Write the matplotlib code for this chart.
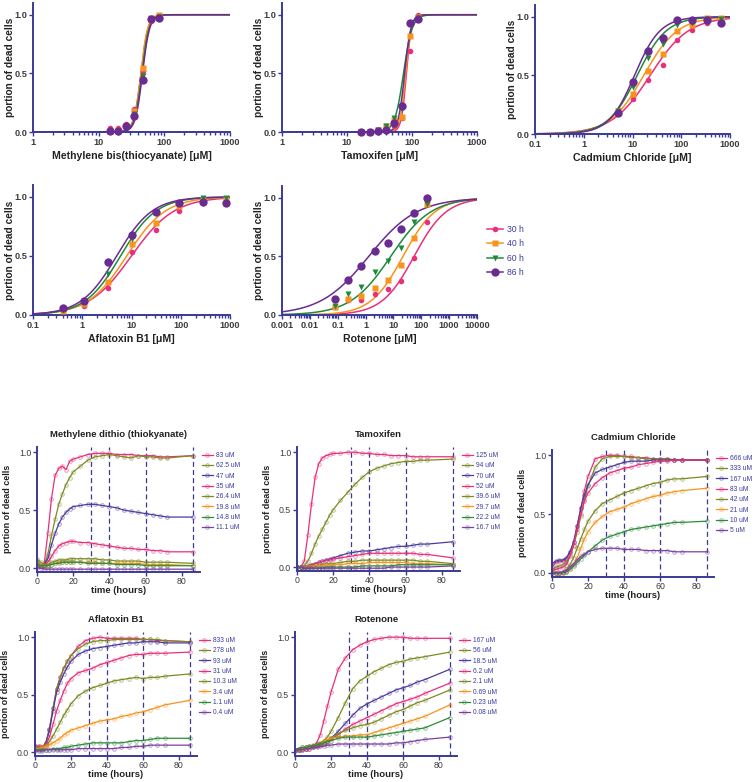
"""
Dose-response (top) and time-course (bottom) of cell death for five compounds.
Output: out.png (756x782 px)
"""

import numpy as np
import matplotlib
matplotlib.use("Agg")
import matplotlib.pyplot as plt
from matplotlib.colors import to_rgba
from matplotlib.lines import Line2D
from matplotlib.ticker import LogLocator, NullFormatter, FuncFormatter

plt.rcParams["font.family"] = ["Liberation Sans", "DejaVu Sans"]

W, H = 756, 782
AXIS = "#3a3a96"
TXT = "#3c3c3c"
LEG_TXT = "#3a3aa0"

# ---------------- dose-response data ----------------
TIMES = ["30 h", "40 h", "60 h", "86 h"]
T_COLORS = ["#e8307a", "#f7941d", "#1f8a3c", "#6a2c91"]
T_MARKERS = ["o", "s", "v", "o"]
T_MSIZE = [4, 4, 4.5, 6]

# Methylene bis(thiocyanate)
MBT_CONC = [14.8, 19.8, 26.4, 35, 47, 62.5, 83]
MBT_Y = [
    [0.03, 0.03, 0.07, 0.20, 0.52, 0.95, 0.98],
    [0.01, 0.02, 0.05, 0.18, 0.55, 0.97, 1.00],
    [0.01, 0.01, 0.04, 0.15, 0.48, 0.96, 0.98],
    [0.01, 0.01, 0.05, 0.14, 0.44, 0.96, 0.97],
]
MBT_EC50 = [44, 44, 45.5, 46.5]
MBT_HILL = [8, 8.5, 8, 8]

# Tamoxifen
TAM_CONC = [16.7, 22.2, 29.7, 39.6, 52, 70, 94, 125]
TAM_Y = [
    [0.0, 0.0, 0.0, 0.01, 0.05, 0.12, 0.69, 1.00],
    [0.0, 0.0, 0.02, 0.05, 0.10, 0.13, 0.82, 0.98],
    [0.0, 0.0, 0.02, 0.05, 0.12, 0.20, 0.93, 0.97],
    [0.0, 0.0, 0.01, 0.02, 0.08, 0.22, 0.93, 0.96],
]
TAM_EC50 = [82, 80, 74, 77]
TAM_HILL = [11, 10, 6.5, 9]

# Cadmium chloride
CAD_CONC = [5, 10, 21, 42, 83, 167, 333, 666]
CAD_Y = [
    [0.19, 0.30, 0.46, 0.59, 0.80, 0.89, 0.95, 0.97],
    [0.20, 0.34, 0.54, 0.68, 0.88, 0.93, 0.99, 0.99],
    [0.20, 0.40, 0.65, 0.77, 0.93, 0.95, 0.98, 0.98],
    [0.18, 0.44, 0.71, 0.82, 0.97, 0.97, 0.97, 0.95],
]
CAD_EC50 = [23, 17, 12.5, 11]
CAD_HILL = [1.1, 1.25, 1.45, 1.65]

# Aflatoxin B1
AFL_CONC = [0.4, 1.1, 3.4, 10.3, 31, 93, 278, 833]
AFL_Y = [
    [0.03, 0.08, 0.23, 0.53, 0.72, 0.88, 0.95, 0.96],
    [0.03, 0.09, 0.28, 0.60, 0.78, 0.92, 0.97, 0.98],
    [0.04, 0.11, 0.35, 0.64, 0.86, 0.95, 0.99, 0.99],
    [0.06, 0.12, 0.45, 0.68, 0.87, 0.95, 0.96, 0.95],
]
AFL_EC50 = [10, 8, 6, 5]
AFL_HILL = [1.0, 1.1, 1.2, 1.2]

# Rotenone
ROT_CONC = [0.08, 0.23, 0.69, 2.1, 6.2, 18.5, 56, 167]
ROT_Y = [
    [0.07, 0.13, 0.13, 0.18, 0.22, 0.29, 0.49, 0.79],
    [0.07, 0.14, 0.16, 0.23, 0.30, 0.43, 0.66, 0.95],
    [0.08, 0.18, 0.24, 0.37, 0.46, 0.57, 0.79, 0.95],
    [0.14, 0.30, 0.42, 0.55, 0.61, 0.73, 0.87, 1.00],
]
ROT_EC50 = [55, 22, 8, 1.3]
ROT_HILL = [0.75, 0.75, 0.6, 0.5]

# ---------------- time-course data ----------------
TC_T = [0, 2, 4, 6, 8, 10, 12, 14, 16, 18, 20, 24, 28, 32, 36, 40, 44, 48, 52, 56, 60, 64, 68, 72, 86]
TC_COLORS = ["#e8307a", "#7d8a22", "#4a3c9e", "#e8307a", "#7d8a22", "#f7941d", "#2e8b3a", "#7a3fa0"]
VLINES = [30, 40, 60, 86]

MDT_LABELS = ["83 uM", "62.5 uM", "47 uM", "35 uM", "26.4 uM", "19.8 uM", "14.8 uM", "11.1 uM"]
MDT_Y = [
    [0.05, 0.02, 0.04, 0.30, 0.60, 0.80, 0.86, 0.88, 0.85, 0.92, 0.94, 0.96, 0.98, 0.99, 0.99, 0.99, 0.98, 0.98, 0.98, 0.97, 0.97, 0.97, 0.96, 0.96, 0.97],
    [0.05, 0.03, 0.03, 0.12, 0.28, 0.42, 0.55, 0.64, 0.72, 0.78, 0.83, 0.88, 0.93, 0.96, 0.97, 0.98, 0.97, 0.96, 0.95, 0.97, 0.96, 0.96, 0.95, 0.95, 0.97],
    [0.02, 0.02, 0.03, 0.08, 0.20, 0.30, 0.38, 0.44, 0.48, 0.51, 0.53, 0.54, 0.55, 0.55, 0.54, 0.53, 0.52, 0.50, 0.49, 0.48, 0.47, 0.46, 0.45, 0.44, 0.44],
    [0.03, 0.02, 0.02, 0.05, 0.10, 0.15, 0.19, 0.21, 0.22, 0.23, 0.23, 0.22, 0.22, 0.21, 0.20, 0.19, 0.18, 0.17, 0.17, 0.16, 0.16, 0.15, 0.15, 0.14, 0.14],
    [0.08, 0.05, 0.03, 0.03, 0.05, 0.06, 0.07, 0.07, 0.07, 0.08, 0.08, 0.08, 0.08, 0.08, 0.07, 0.07, 0.06, 0.06, 0.06, 0.06, 0.05, 0.05, 0.05, 0.05, 0.04],
    [0.03, 0.03, 0.02, 0.02, 0.03, 0.04, 0.05, 0.05, 0.05, 0.05, 0.05, 0.05, 0.05, 0.05, 0.04, 0.04, 0.04, 0.04, 0.04, 0.04, 0.03, 0.03, 0.03, 0.03, 0.02],
    [0.03, 0.02, 0.02, 0.02, 0.03, 0.04, 0.04, 0.05, 0.05, 0.05, 0.05, 0.05, 0.04, 0.04, 0.04, 0.04, 0.03, 0.03, 0.03, 0.03, 0.02, 0.02, 0.02, 0.02, 0.02],
    [0.00, 0.00, -0.01, -0.01, -0.01, -0.01, -0.01, -0.01, -0.01, -0.01, -0.01, -0.01, -0.01, -0.01, -0.01, -0.01, -0.01, -0.01, -0.01, -0.01, -0.01, -0.01, -0.01, -0.01, -0.01],
]

TAMT_LABELS = ["125 uM", "94 uM", "70 uM", "52 uM", "39.6 uM", "29.7 uM", "22.2 uM", "16.7 uM"]
TAMT_Y = [
    [0.00, 0.00, 0.05, 0.28, 0.55, 0.78, 0.90, 0.95, 0.97, 0.98, 0.99, 0.99, 1.00, 1.00, 0.99, 0.99, 0.98, 0.98, 0.97, 0.97, 0.97, 0.96, 0.96, 0.96, 0.96],
    [0.00, 0.00, 0.01, 0.05, 0.12, 0.20, 0.27, 0.33, 0.39, 0.45, 0.50, 0.58, 0.65, 0.72, 0.78, 0.83, 0.86, 0.88, 0.90, 0.91, 0.92, 0.92, 0.93, 0.93, 0.94],
    [0.00, 0.00, 0.00, 0.01, 0.02, 0.03, 0.04, 0.05, 0.06, 0.07, 0.08, 0.10, 0.12, 0.13, 0.14, 0.14, 0.15, 0.16, 0.17, 0.18, 0.18, 0.19, 0.20, 0.20, 0.22],
    [0.00, 0.00, 0.00, 0.01, 0.02, 0.03, 0.04, 0.05, 0.06, 0.06, 0.07, 0.08, 0.09, 0.10, 0.11, 0.12, 0.12, 0.12, 0.12, 0.12, 0.12, 0.12, 0.11, 0.11, 0.08],
    [0.00, 0.00, 0.00, 0.00, 0.01, 0.01, 0.02, 0.02, 0.03, 0.03, 0.03, 0.04, 0.05, 0.05, 0.06, 0.06, 0.06, 0.06, 0.06, 0.06, 0.06, 0.06, 0.05, 0.05, 0.03],
    [0.00, 0.00, 0.00, 0.00, 0.00, 0.01, 0.01, 0.01, 0.02, 0.02, 0.02, 0.02, 0.03, 0.03, 0.03, 0.04, 0.04, 0.04, 0.04, 0.04, 0.04, 0.03, 0.03, 0.03, 0.02],
    [0.00, 0.00, -0.01, -0.01, -0.01, -0.01, -0.01, -0.01, 0.00, 0.00, 0.00, 0.00, 0.00, 0.00, 0.01, 0.01, 0.01, 0.01, 0.01, 0.02, 0.02, 0.02, 0.02, 0.02, 0.02],
    [0.00, 0.00, -0.01, -0.01, -0.01, -0.01, -0.01, -0.01, -0.01, -0.01, -0.01, -0.01, -0.01, -0.01, -0.01, -0.01, -0.01, -0.01, 0.00, 0.00, 0.00, 0.00, 0.00, 0.00, 0.01],
]

CADT_LABELS = ["666 uM", "333 uM", "167 uM", "83 uM", "42 uM", "21 uM", "10 uM", "5 uM"]
CADT_Y = [
    [0.05, 0.09, 0.10, 0.10, 0.12, 0.18, 0.26, 0.40, 0.55, 0.70, 0.82, 0.97, 0.99, 1.00, 1.00, 0.99, 0.99, 0.98, 0.98, 0.97, 0.97, 0.97, 0.96, 0.96, 0.96],
    [0.03, 0.05, 0.06, 0.07, 0.09, 0.15, 0.23, 0.35, 0.48, 0.62, 0.74, 0.90, 0.97, 0.99, 0.99, 0.99, 0.98, 0.98, 0.97, 0.97, 0.97, 0.97, 0.96, 0.96, 0.96],
    [0.08, 0.10, 0.11, 0.11, 0.13, 0.18, 0.26, 0.40, 0.55, 0.66, 0.75, 0.85, 0.88, 0.90, 0.92, 0.94, 0.95, 0.95, 0.95, 0.96, 0.96, 0.96, 0.96, 0.96, 0.96],
    [0.02, 0.03, 0.04, 0.05, 0.07, 0.14, 0.24, 0.37, 0.50, 0.61, 0.68, 0.76, 0.81, 0.85, 0.87, 0.89, 0.90, 0.92, 0.93, 0.94, 0.95, 0.95, 0.96, 0.96, 0.96],
    [0.01, 0.00, 0.00, 0.01, 0.03, 0.07, 0.13, 0.21, 0.29, 0.37, 0.44, 0.53, 0.59, 0.62, 0.65, 0.68, 0.70, 0.72, 0.74, 0.76, 0.77, 0.79, 0.80, 0.80, 0.82],
    [0.00, 0.00, -0.01, 0.00, 0.01, 0.03, 0.07, 0.13, 0.21, 0.29, 0.35, 0.43, 0.48, 0.52, 0.54, 0.56, 0.59, 0.61, 0.63, 0.65, 0.66, 0.68, 0.69, 0.70, 0.72],
    [0.00, 0.00, 0.00, 0.00, 0.01, 0.03, 0.06, 0.09, 0.12, 0.15, 0.18, 0.23, 0.28, 0.31, 0.33, 0.35, 0.37, 0.38, 0.39, 0.40, 0.41, 0.42, 0.43, 0.43, 0.44],
    [0.00, 0.00, 0.00, 0.01, 0.02, 0.05, 0.08, 0.11, 0.14, 0.16, 0.18, 0.20, 0.21, 0.21, 0.21, 0.20, 0.20, 0.20, 0.19, 0.19, 0.19, 0.19, 0.18, 0.18, 0.18],
]

AFLT_LABELS = ["833 uM", "278 uM", "93 uM", "31 uM", "10.3 uM", "3.4 uM", "1.1 uM", "0.4 uM"]
AFLT_Y = [
    [0.05, 0.05, 0.04, 0.08, 0.20, 0.38, 0.55, 0.65, 0.73, 0.79, 0.84, 0.92, 0.97, 0.99, 1.00, 0.99, 0.99, 0.99, 0.99, 0.99, 0.98, 0.98, 0.97, 0.97, 0.96],
    [0.05, 0.04, 0.04, 0.08, 0.20, 0.38, 0.55, 0.65, 0.73, 0.79, 0.84, 0.90, 0.94, 0.96, 0.97, 0.97, 0.98, 0.98, 0.98, 0.98, 0.98, 0.98, 0.98, 0.97, 0.96],
    [0.03, 0.03, 0.03, 0.07, 0.19, 0.36, 0.52, 0.61, 0.68, 0.74, 0.79, 0.85, 0.88, 0.90, 0.91, 0.92, 0.93, 0.94, 0.95, 0.95, 0.96, 0.96, 0.96, 0.95, 0.95],
    [0.05, 0.05, 0.04, 0.06, 0.13, 0.24, 0.36, 0.45, 0.53, 0.60, 0.64, 0.69, 0.71, 0.73, 0.76, 0.78, 0.80, 0.82, 0.84, 0.85, 0.85, 0.86, 0.86, 0.86, 0.87],
    [0.04, 0.04, 0.03, 0.05, 0.09, 0.14, 0.20, 0.26, 0.32, 0.37, 0.42, 0.49, 0.53, 0.56, 0.58, 0.60, 0.62, 0.63, 0.64, 0.65, 0.64, 0.65, 0.65, 0.66, 0.68],
    [0.03, 0.03, 0.04, 0.05, 0.06, 0.08, 0.10, 0.12, 0.15, 0.17, 0.19, 0.21, 0.23, 0.25, 0.27, 0.28, 0.29, 0.31, 0.32, 0.34, 0.35, 0.37, 0.39, 0.41, 0.45],
    [0.02, 0.02, 0.02, 0.02, 0.02, 0.03, 0.03, 0.03, 0.04, 0.04, 0.05, 0.06, 0.07, 0.08, 0.08, 0.08, 0.08, 0.08, 0.09, 0.10, 0.10, 0.11, 0.12, 0.12, 0.12],
    [0.01, 0.01, 0.01, 0.02, 0.02, 0.02, 0.02, 0.02, 0.02, 0.02, 0.02, 0.03, 0.03, 0.03, 0.03, 0.03, 0.03, 0.04, 0.04, 0.05, 0.05, 0.06, 0.06, 0.06, 0.06],
]

ROTT_LABELS = ["167 uM", "56 uM", "18.5 uM", "6.2 uM", "2.1 uM", "0.69 uM", "0.23 uM", "0.08 uM"]
ROTT_Y = [
    [0.02, 0.03, 0.03, 0.04, 0.04, 0.05, 0.08, 0.15, 0.27, 0.40, 0.52, 0.72, 0.82, 0.89, 0.93, 0.96, 0.98, 0.99, 1.00, 1.00, 1.00, 0.99, 0.99, 0.99, 0.99],
    [0.02, 0.03, 0.04, 0.04, 0.05, 0.06, 0.07, 0.08, 0.10, 0.13, 0.18, 0.30, 0.43, 0.55, 0.62, 0.66, 0.70, 0.73, 0.76, 0.78, 0.79, 0.81, 0.82, 0.83, 0.87],
    [0.02, 0.02, 0.03, 0.03, 0.04, 0.05, 0.06, 0.07, 0.08, 0.10, 0.12, 0.18, 0.25, 0.32, 0.38, 0.42, 0.45, 0.48, 0.51, 0.54, 0.56, 0.58, 0.61, 0.63, 0.72],
    [0.01, 0.02, 0.02, 0.03, 0.03, 0.04, 0.05, 0.06, 0.08, 0.09, 0.11, 0.15, 0.20, 0.24, 0.27, 0.30, 0.33, 0.36, 0.39, 0.42, 0.44, 0.46, 0.48, 0.51, 0.60],
    [0.01, 0.02, 0.03, 0.03, 0.04, 0.04, 0.05, 0.06, 0.08, 0.10, 0.12, 0.16, 0.19, 0.21, 0.23, 0.24, 0.26, 0.29, 0.32, 0.35, 0.37, 0.40, 0.43, 0.45, 0.54],
    [0.02, 0.03, 0.03, 0.04, 0.04, 0.05, 0.06, 0.07, 0.09, 0.11, 0.12, 0.13, 0.14, 0.14, 0.15, 0.15, 0.17, 0.19, 0.21, 0.23, 0.25, 0.27, 0.29, 0.31, 0.41],
    [0.02, 0.03, 0.04, 0.04, 0.05, 0.05, 0.06, 0.07, 0.08, 0.09, 0.10, 0.12, 0.13, 0.13, 0.13, 0.13, 0.14, 0.15, 0.16, 0.17, 0.18, 0.19, 0.20, 0.21, 0.30],
    [0.02, 0.02, 0.02, 0.03, 0.03, 0.04, 0.04, 0.05, 0.05, 0.06, 0.06, 0.07, 0.07, 0.07, 0.07, 0.07, 0.07, 0.07, 0.07, 0.08, 0.08, 0.09, 0.10, 0.11, 0.13],
]


def add_ax(fig, left, top, right, bottom):
    """Axes from pixel box (origin top-left)."""
    ax = fig.add_axes([left / W, 1 - bottom / H, (right - left) / W, (bottom - top) / H])
    ax._px_width = right - left
    return ax


def style_axes(ax, bold_ticks=True, size=6, pad=2):
    ax.spines[["top", "right"]].set_visible(False)
    for s in ("left", "bottom"):
        ax.spines[s].set_color(AXIS)
        ax.spines[s].set_linewidth(1.4)
    ax.tick_params(which="both", direction="out", color=AXIS, labelcolor=TXT,
                   labelsize=size, width=1.0)
    ax.tick_params(which="major", length=3, pad=pad)
    ax.tick_params(which="minor", length=1.8)
    for lab in ax.get_xticklabels() + ax.get_yticklabels():
        lab.set_fontweight("bold" if bold_ticks else "normal")


def dose_panel(fig, box, conc, ys, ec50, hill, xlim, xlabel):
    ax = add_ax(fig, *box)
    xx = np.logspace(np.log10(xlim[0]), np.log10(xlim[1]), 400)
    for i in range(4):
        fit = 1 / (1 + (ec50[i] / xx) ** hill[i])
        ax.plot(xx, fit, color=T_COLORS[i], lw=1.1)
    for i in range(4):
        ax.plot(conc, ys[i], T_MARKERS[i], color=T_COLORS[i], ms=T_MSIZE[i],
                mec="none", clip_on=False, zorder=3)
    ax.set_xscale("log")
    ax.set_xlim(*xlim)
    ax.set_ylim(0, 1.1)
    ax.set_yticks([0, 0.5, 1.0])
    ax.set_yticklabels(["0.0", "0.5", "1.0"])
    ax.xaxis.set_major_locator(LogLocator(base=10))
    ax.xaxis.set_minor_locator(LogLocator(base=10, subs=np.arange(2, 10)))
    ax.xaxis.set_minor_formatter(NullFormatter())
    ax.xaxis.set_major_formatter(FuncFormatter(lambda v, p: f"{v:g}"))
    ax.set_xlabel(xlabel, fontsize=7.6, fontweight="bold", color="#222222", labelpad=3)
    ax.set_ylabel("portion of dead cells", fontsize=7.3, fontweight="bold", color="#222222")
    ax.yaxis.set_label_coords(-18 / ax._px_width, 0.5)
    style_axes(ax, True, 6.6, pad=1)
    return ax


def time_panel(fig, box, title, labels, series):
    ax = add_ax(fig, *box)
    for v in VLINES:
        ax.axvline(v, color=AXIS, ls=(0, (4, 2.5)), lw=0.9, zorder=1)
    handles = []
    for lab, y, c in zip(labels, series, TC_COLORS):
        h, = ax.plot(TC_T, y, color=c, lw=0.9, marker="o", ms=2.6, mfc="none",
                     mec=to_rgba(c, 0.5), mew=0.7, label=lab, zorder=2)
        handles.append(h)
    ax.set_xlim(0, 90)
    ax.set_ylim(-0.03, 1.045)
    ax.set_xticks([0, 20, 40, 60, 80])
    ax.set_yticks([0, 0.5, 1.0])
    ax.set_yticklabels(["0.0", "0.5", "1.0"])
    ax.set_title(title, fontsize=6.8, fontweight="bold", color="#222222", pad=7)
    ax.set_xlabel("time (hours)", fontsize=6.8, fontweight="bold", color="#222222", labelpad=0)
    ax.set_ylabel("portion of dead cells", fontsize=6.5, fontweight="bold", color="#222222")
    ax.yaxis.set_label_coords(-25 / ax._px_width, 0.5)
    style_axes(ax, False, 6.3, pad=1.2)
    ax.legend(handles=handles, loc="upper left", bbox_to_anchor=(1.01, 0.96),
              frameon=False, fontsize=4.8, handlelength=1.7, handletextpad=0.5,
              labelspacing=0.5, borderpad=0, borderaxespad=0, labelcolor=LEG_TXT)
    return ax


if __name__ == "__main__":
    fig = plt.figure(figsize=(W / 100, H / 100), dpi=100)

    dose_panel(fig, (33, 3, 230, 132), MBT_CONC, MBT_Y, MBT_EC50, MBT_HILL,
               (1, 1000), "Methylene bis(thiocyanate) [\u03bcM]")
    dose_panel(fig, (282, 3, 477, 132), TAM_CONC, TAM_Y, TAM_EC50, TAM_HILL,
               (1, 1000), "Tamoxifen [\u03bcM]")
    dose_panel(fig, (535, 5, 730, 134), CAD_CONC, CAD_Y, CAD_EC50, CAD_HILL,
               (0.1, 1000), "Cadmium Chloride [\u03bcM]")
    dose_panel(fig, (33, 185, 230, 315), AFL_CONC, AFL_Y, AFL_EC50, AFL_HILL,
               (0.1, 1000), "Aflatoxin B1 [\u03bcM]")
    ax_rot = dose_panel(fig, (282, 186, 477, 315), ROT_CONC, ROT_Y, ROT_EC50, ROT_HILL,
                        (0.001, 10000), "Rotenone [\u03bcM]")

    leg_handles = [Line2D([], [], color=T_COLORS[i], marker=T_MARKERS[i],
                          ms=T_MSIZE[i], mec="none", lw=1.1) for i in range(4)]
    ax_rot.legend(leg_handles, TIMES, loc="upper left", bbox_to_anchor=(1.05, 0.70),
                  frameon=False, fontsize=6.2, handlelength=1.9, handletextpad=0.5,
                  labelspacing=0.65, borderpad=0, borderaxespad=0, labelcolor=LEG_TXT)

    time_panel(fig, (37, 447, 200, 571.5), "Methylene dithio (thiokyanate)", MDT_LABELS, MDT_Y)
    time_panel(fig, (297, 447, 460, 570.5), "Tamoxifen", TAMT_LABELS, TAMT_Y)
    time_panel(fig, (552, 450, 714, 576.5), "Cadmium Chloride", CADT_LABELS, CADT_Y)
    time_panel(fig, (35, 632, 197, 755.5), "Aflatoxin B1", AFLT_LABELS, AFLT_Y)
    time_panel(fig, (295, 632, 457, 755.5), "Rotenone", ROTT_LABELS, ROTT_Y)

    fig.savefig("out.png", dpi=100)
